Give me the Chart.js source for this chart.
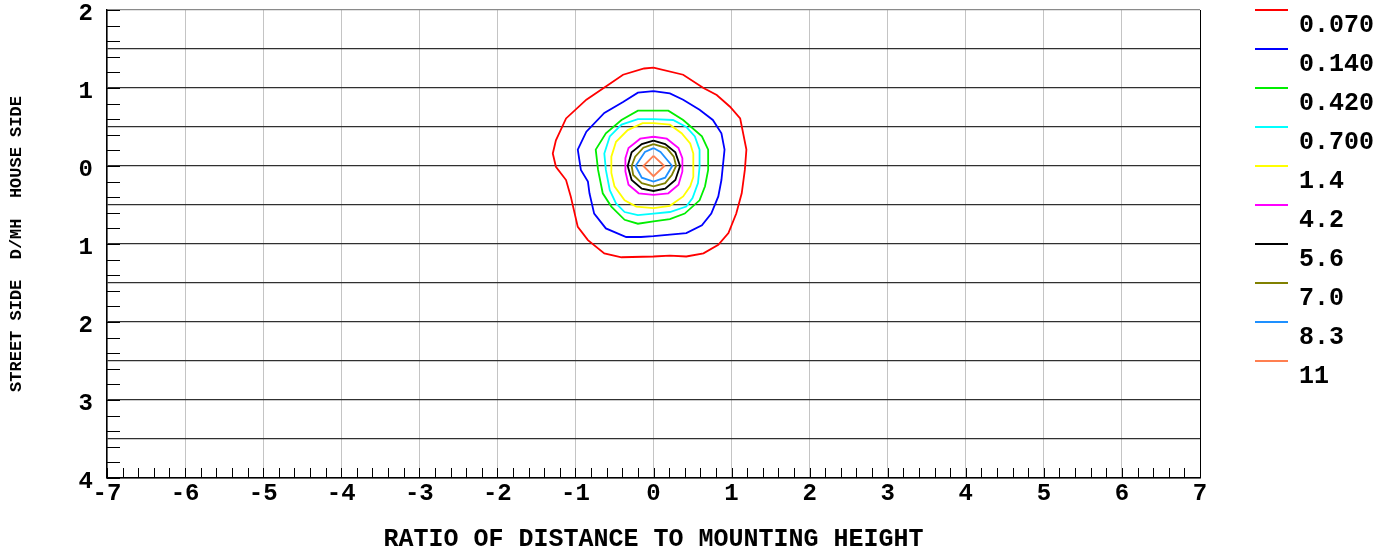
<!DOCTYPE html>
<html>
<head>
    <title>Isolux Contours</title>
    <script src="https://cdn.jsdelivr.net/npm/chart.js"></script>
    <style>
        body { margin: 0; background: #fff; }
        #wrap { position: relative; width: 1391px; height: 552px; }
    </style>
</head>
<body>
    <div id="wrap">
        <canvas id="contour-chart"></canvas>
    </div>

    <script>
        // Contour levels shown in the legend
        const levels = ['0.070', '0.140', '0.420', '0.700', '1.4', '4.2', '5.6', '7.0', '8.3', '11'];
        const levelColors = ['#ff0000', '#0000ff', '#00ee00', '#00ffff', '#ffff00', '#ff00ff', '#000000', '#808000', '#1e90ff', '#ff7f50'];

        // Contour outlines as [x, y] in units of mounting height
        const c0070 = [[0,1.26],[0.38,1.17],[0.64,1.0],[0.81,0.91],[0.98,0.76],[1.11,0.61],[1.19,0.21],[1.17,-0.05],[1.13,-0.35],[1.06,-0.61],[0.96,-0.86],[0.83,-1.01],[0.64,-1.12],[0.42,-1.16],[0.21,-1.15],[0,-1.16],[-0.41,-1.17],[-0.63,-1.12],[-0.84,-0.95],[-0.97,-0.78],[-1.06,-0.39],[-1.12,-0.18],[-1.25,-0.01],[-1.29,0.16],[-1.25,0.33],[-1.12,0.61],[-0.86,0.85],[-0.61,1.02],[-0.39,1.17],[-0.12,1.25],[0,1.26]];
        const c0140 = [[0,0.96],[0.21,0.93],[0.38,0.85],[0.59,0.72],[0.76,0.59],[0.87,0.42],[0.91,0.21],[0.87,-0.18],[0.83,-0.39],[0.74,-0.61],[0.62,-0.76],[0.42,-0.86],[0.21,-0.88],[0,-0.9],[-0.16,-0.91],[-0.35,-0.91],[-0.61,-0.8],[-0.76,-0.61],[-0.82,-0.35],[-0.84,-0.2],[-0.93,-0.05],[-0.97,0.21],[-0.86,0.44],[-0.63,0.68],[-0.39,0.82],[-0.2,0.94],[0,0.96]];
        const c0420 = [[0,0.71],[0.19,0.71],[0.38,0.59],[0.62,0.38],[0.7,0.21],[0.7,-0.05],[0.66,-0.26],[0.59,-0.44],[0.4,-0.61],[0.21,-0.68],[0,-0.71],[-0.2,-0.74],[-0.37,-0.69],[-0.54,-0.52],[-0.65,-0.35],[-0.71,-0.05],[-0.74,0.21],[-0.61,0.42],[-0.41,0.59],[-0.2,0.71],[0,0.71]];
        const c0700 = [[0,0.6],[0.25,0.59],[0.42,0.5],[0.53,0.38],[0.59,0.21],[0.59,-0.01],[0.57,-0.22],[0.5,-0.41],[0.42,-0.52],[0.21,-0.59],[0,-0.61],[-0.2,-0.63],[-0.37,-0.59],[-0.48,-0.48],[-0.56,-0.31],[-0.61,-0.05],[-0.63,0.16],[-0.56,0.38],[-0.41,0.53],[-0.2,0.6],[0,0.6]];
        const c14 = [[0,0.55],[0.21,0.53],[0.36,0.42],[0.47,0.29],[0.51,0.16],[0.51,-0.14],[0.47,-0.26],[0.38,-0.39],[0.21,-0.51],[0,-0.54],[-0.22,-0.52],[-0.37,-0.44],[-0.5,-0.26],[-0.54,-0.09],[-0.54,0.12],[-0.48,0.31],[-0.33,0.46],[-0.14,0.55],[0,0.55]];
        const c42 = [[0,0.375],[0.17,0.35],[0.32,0.23],[0.37,0.1],[0.37,-0.07],[0.32,-0.24],[0.19,-0.35],[0,-0.37],[-0.19,-0.35],[-0.32,-0.24],[-0.36,-0.07],[-0.36,0.1],[-0.32,0.23],[-0.17,0.35],[0,0.375]];
        const c56 = [[0,0.325],[0.15,0.28],[0.28,0.175],[0.34,0],[0.28,-0.18],[0.15,-0.29],[0,-0.32],[-0.15,-0.29],[-0.28,-0.18],[-0.33,0],[-0.28,0.175],[-0.15,0.28],[0,0.325]];
        const c70 = [[0,0.28],[0.17,0.23],[0.26,0.12],[0.29,0],[0.235,-0.115],[0.15,-0.22],[0,-0.26],[-0.15,-0.22],[-0.26,-0.115],[-0.28,0],[-0.235,0.12],[-0.13,0.235],[0,0.28]];
        const c83 = [[0,0.23],[0.09,0.18],[0.24,0],[0.15,-0.15],[0,-0.2],[-0.15,-0.15],[-0.23,0],[-0.11,0.18],[0,0.23]];
        const c11 = [[0,0.13],[0.14,0],[0,-0.13],[-0.13,0],[0,0.13]];
        const contours = [c0070, c0140, c0420, c0700, c14, c42, c56, c70, c83, c11];

        // Axis ranges and tick label text
        const xTicks = [-7, -6, -5, -4, -3, -2, -1, 0, 1, 2, 3, 4, 5, 6, 7];
        const yMin = -4, yMax = 2;
        const xTitle = 'RATIO OF DISTANCE TO MOUNTING HEIGHT';
        const yTitle = 'STREET SIDE  D/MH  HOUSE SIDE';

        const FONT = '"Liberation Mono", "Courier New", monospace';

        // Short ticks every 0.2 on the left and bottom edges, plus the legend
        const decorPlugin = {
            id: 'decor',
            afterDraw(chart) {
                const ctx = chart.ctx;
                const xs = chart.scales.x, ys = chart.scales.y;
                const area = chart.chartArea;
                ctx.save();
                ctx.strokeStyle = '#000';
                ctx.lineWidth = 1;
                ctx.beginPath();
                for (let i = 0; i <= 70; i++) {
                    const px = Math.round(xs.getPixelForValue(-7 + i * 0.2)) + 0.5;
                    ctx.moveTo(px, area.bottom);
                    ctx.lineTo(px, area.bottom - 10);
                }
                for (let i = 0; i <= 30; i++) {
                    const py = Math.round(ys.getPixelForValue(yMin + i * 0.2)) + 0.5;
                    ctx.moveTo(area.left, py);
                    ctx.lineTo(area.left + 13, py);
                }
                ctx.stroke();

                // legend
                const lx = area.right + 55;
                chart.data.datasets.forEach((ds, i) => {
                    const ly = area.top + i * 39;
                    ctx.strokeStyle = ds.borderColor;
                    ctx.lineWidth = 2;
                    ctx.beginPath();
                    ctx.moveTo(lx, ly);
                    ctx.lineTo(lx + 33, ly);
                    ctx.stroke();
                    ctx.fillStyle = '#000';
                    ctx.font = 'bold 25px ' + FONT;
                    ctx.textBaseline = 'alphabetic';
                    ctx.fillText(ds.label, lx + 44, ly + 22);
                });
                ctx.restore();
            }
        };

        function renderChart() {
            const datasets = contours.map((pts, i) => ({
                label: levels[i],
                data: pts.map(p => ({ x: p[0], y: p[1] })),
                showLine: true,
                borderColor: levelColors[i],
                borderWidth: 1.8,
                pointRadius: 0,
                fill: false,
                tension: 0
            }));

            new Chart(document.getElementById('contour-chart'), {
                type: 'scatter',
                data: { datasets: datasets },
                options: {
                    responsive: true,
                    maintainAspectRatio: false,
                    animation: false,
                    layout: { padding: { left: 0, right: 191, top: 10, bottom: 0 } },
                    plugins: { legend: { display: false }, tooltip: { enabled: false } },
                    scales: {
                        x: {
                            type: 'linear',
                            min: -7,
                            max: 7,
                            afterBuildTicks: s => { s.ticks = xTicks.map(v => ({ value: v })); },
                            afterFit: s => { s.height = 74; s.paddingLeft = 0; s.paddingRight = 0; },
                            grid: {
                                drawTicks: false,
                                color: c => c.tick && c.tick.value === 7 ? '#000' : '#c4c4c4',
                                lineWidth: 1
                            },
                            border: { color: '#000', width: 1.5 },
                            ticks: {
                                padding: 2,
                                color: '#000',
                                font: { family: FONT, size: 24, weight: 'bold' }
                            },
                            title: {
                                display: true,
                                text: xTitle,
                                color: '#000',
                                padding: { top: 0, bottom: -3 },
                                font: { family: FONT, size: 25, weight: 'bold' }
                            }
                        },
                        y: {
                            type: 'linear',
                            min: yMin,
                            max: yMax,
                            afterBuildTicks: s => {
                                const t = [];
                                for (let i = 0; i <= 12; i++) t.push({ value: yMin + i * 0.5 });
                                s.ticks = t;
                            },
                            afterFit: s => { s.width = 107; s.paddingTop = 0; s.paddingBottom = 0; },
                            grid: {
                                drawTicks: false,
                                color: c => c.tick && c.tick.value === yMax ? '#8a8a8a' : '#303030',
                                lineWidth: 1.2
                            },
                            border: { color: '#000', width: 1.5 },
                            ticks: {
                                padding: 14,
                                labelOffset: 4,
                                color: '#000',
                                autoSkip: false,
                                font: { family: FONT, size: 24, weight: 'bold' },
                                callback: v => Number.isInteger(v) ? String(Math.abs(v)) : ''
                            },
                            title: {
                                display: true,
                                text: yTitle,
                                color: '#000',
                                padding: { top: 7, bottom: 0 },
                                font: { family: FONT, size: 17, weight: 'bold' }
                            }
                        }
                    }
                },
                plugins: [decorPlugin]
            });
        }

        renderChart();
    </script>
</body>
</html>
